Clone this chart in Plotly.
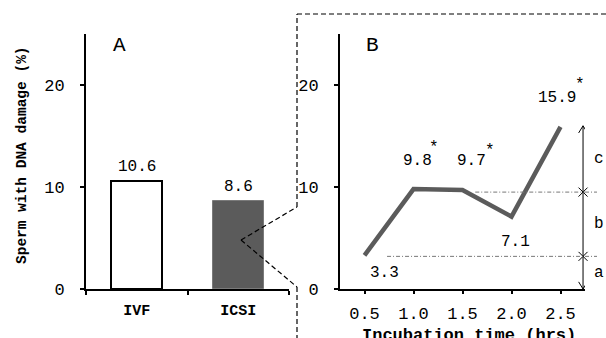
import plotly.graph_objects as go

# ---- data ----
categories = ["IVF", "ICSI"]
damage_pct = [10.6, 8.6]
bar_fill = ["white", "#5b5b5b"]
bar_edge = ["black", "#7a7a7a"]

time_hrs = [0.5, 1.0, 1.5, 2.0, 2.5]
damage_time = [3.3, 9.8, 9.7, 7.1, 15.9]
significant = [False, True, True, False, True]
time_ticks = ["0.5", "1.0", "1.5", "2.0", "2.5"]

bracket_levels = [0, 3.2, 9.5, 16.0]
bracket_labels = ["a", "b", "c"]

W, H = 606, 338
FONT = "Liberation Mono"


def px(x):
    return x / W


def py(y):
    return 1 - y / H


fig = go.Figure()

# Panel A bars
fig.add_trace(go.Bar(
    x=categories, y=damage_pct, width=0.5,
    marker=dict(color=bar_fill, line=dict(color=bar_edge, width=[2, 1])),
    xaxis="x", yaxis="y", showlegend=False,
))

# Panel B line
fig.add_trace(go.Scatter(
    x=time_hrs, y=damage_time, mode="lines",
    line=dict(color="#5b5b5b", width=4.5),
    xaxis="x2", yaxis="y2", showlegend=False, cliponaxis=False,
))

# bracket (vertical double arrow)
bx = 2.73
fig.add_trace(go.Scatter(
    x=[bx, bx], y=[bracket_levels[0], bracket_levels[-1]], mode="lines",
    line=dict(color="black", width=1), xaxis="x2", yaxis="y2",
    showlegend=False, cliponaxis=False,
))
dx, dy = 0.045, 0.7
top, bot = bracket_levels[-1], bracket_levels[0]
fig.add_trace(go.Scatter(
    x=[bx - dx, bx, bx + dx, None, bx - dx, bx, bx + dx],
    y=[top - dy, top, top - dy, None, bot + dy, bot, bot + dy],
    mode="lines", line=dict(color="black", width=1),
    xaxis="x2", yaxis="y2", showlegend=False, cliponaxis=False,
))
fig.add_trace(go.Scatter(
    x=[bx] * (len(bracket_levels) - 2), y=bracket_levels[1:-1], mode="markers",
    marker=dict(symbol="x-thin-open", size=9, color="black",
                line=dict(color="black", width=1)),
    xaxis="x2", yaxis="y2", showlegend=False, cliponaxis=False,
))

shapes = []
dd = dict(color="#777", width=1, dash="4px,2px,1px,2px")
dd_starts = [0.73, 1.63]
for lvl, xs in zip(bracket_levels[1:-1], dd_starts):
    shapes.append(dict(type="line", xref="x2", yref="y2", x0=xs, x1=2.75,
                       y0=lvl, y1=lvl, line=dd))
    shapes.append(dict(type="line", xref="paper", yref="y2", x0=px(585), x1=px(597),
                       y0=lvl, y1=lvl, line=dd))

# zoom connector (decorative dashed lines)
dash = dict(color="black", width=1.2, dash="5px,3px")
conn = [((241, 240), (297, 207)), ((241, 240), (297, 287)),
        ((297, 207), (297, 14)), ((297, 14), (606, 14)), ((297, 287), (297, 338))]
for (x0, y0), (x1, y1) in conn:
    shapes.append(dict(type="line", xref="paper", yref="paper",
                       x0=px(x0), y0=py(y0), x1=px(x1), y1=py(y1), line=dash))

ann = []


def A(**kw):
    kw.setdefault("showarrow", False)
    kw.setdefault("xanchor", "center")
    kw.setdefault("yanchor", "middle")
    ann.append(kw)


for c, v in zip(categories, damage_pct):
    A(x=c, y=v, xref="x", yref="y", text=f"{v:.1f}", yshift=14,
      font=dict(size=16, family=FONT, color="black"))

shifts = [(20, -18), (4, 28), (9, 29), (4, -25), (-4, 29)]
star_shifts = [None, (20, 41), (27, 39), None, (19, 42)]
for t, v, s, (xs, ys), st in zip(time_hrs, damage_time, significant, shifts, star_shifts):
    A(x=t, y=v, xref="x2", yref="y2", text=f"{v:.1f}", xshift=xs, yshift=ys,
      font=dict(size=16, family=FONT, color="black"))
    if s:
        A(x=t, y=v, xref="x2", yref="y2", text="*", xshift=st[0], yshift=st[1],
          font=dict(size=16, family=FONT, color="black"))

for lo, hi, lab in zip(bracket_levels[:-1], bracket_levels[1:], bracket_labels):
    A(x=px(599), y=(lo + hi) / 2, xref="paper", yref="y2", text=lab,
      font=dict(size=16, family=FONT, color="black"))

A(x=px(119), y=py(45), xref="paper", yref="paper", text="A",
  font=dict(size=21, family=FONT, color="black"))
A(x=px(372), y=py(45), xref="paper", yref="paper", text="B",
  font=dict(size=21, family=FONT, color="black"))

A(x=px(22), y=py(155), xref="paper", yref="paper",
  text="<b>Sperm with DNA damage (%)</b>", textangle=-90,
  font=dict(size=14.5, family=FONT, color="black"))
A(x=px(469), y=py(335.5), xref="paper", yref="paper",
  text="<b>Incubation time (hrs)</b>",
  font=dict(size=17, family=FONT, color="black"))

ydom = [py(289), py(34)]
yax = dict(range=[0, 25], tickvals=[0, 10, 20], showgrid=False, zeroline=False,
           showline=True, linecolor="black", linewidth=2, ticks="outside", ticklen=4,
           tickwidth=1.5, tickcolor="black", ticklabelstandoff=12, automargin=False,
           tickfont=dict(size=17, family=FONT, color="black"), domain=ydom)

fig.update_layout(
    template="none",
    width=W, height=H, margin=dict(l=0, r=0, t=0, b=0, pad=0, autoexpand=False),
    paper_bgcolor="white", plot_bgcolor="white",
    xaxis=dict(domain=[px(86), px(289)], range=[-0.5, 1.5], showgrid=False,
               showline=True, linecolor="black", linewidth=2, ticks="outside",
               tickson="boundaries", ticklen=4, tickwidth=1.5, tickcolor="black",
               tickfont=dict(size=15, family=FONT, color="black"),
               tickvals=categories, ticktext=[f"<b>{c}</b>" for c in categories],
               ticklabelstandoff=6, anchor="y", automargin=False),
    yaxis=dict(**yax, anchor="x"),
    xaxis2=dict(domain=[px(340), px(585)], range=[0.25, 2.75], showgrid=False,
                zeroline=False, showline=True, linecolor="black", linewidth=2,
                ticks="outside", ticklen=3, tickwidth=1.5, tickcolor="black",
                tickvals=time_hrs, ticktext=time_ticks,
                tickfont=dict(size=17, family=FONT, color="black"),
                ticklabelstandoff=5, anchor="y2", automargin=False),
    yaxis2=dict(**yax, anchor="x2"),
    shapes=shapes, annotations=ann, bargap=0,
)

fig.write_html("out.html")
